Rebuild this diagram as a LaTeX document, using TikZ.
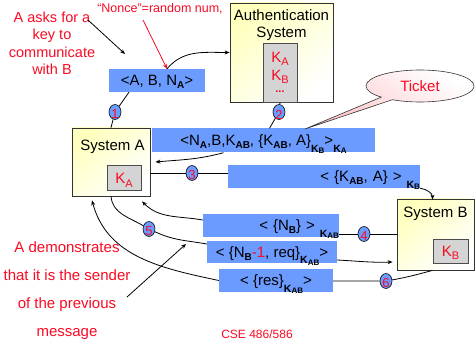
\documentclass[tikz,border=0pt]{standalone}
\usepackage{fontspec}
\setmainfont{Liberation Sans}
\usepackage{xcolor}
\usepackage{tikz}
\usetikzlibrary{arrows.meta, shapes.geometric, shapes.callouts}
\definecolor{msgblue}{RGB}{108,155,255}
\definecolor{notered}{RGB}{250,10,35}
\definecolor{boxyellow}{RGB}{255,255,190}
\definecolor{keygray}{RGB}{212,212,212}
\definecolor{ticketpink}{RGB}{255,195,200}
\newcommand{\bsub}[1]{\raisebox{-0.35ex}{\fontsize{10}{10}\selectfont\bfseries #1}}
\newcommand{\ksub}[1]{\raisebox{-0.8ex}{\fontsize{10.5}{10}\selectfont\bfseries K\raisebox{-0.3ex}{\fontsize{8}{8}\selectfont #1}}}
\newcommand{\rsub}[1]{\raisebox{-0.4ex}{\fontsize{11}{11}\selectfont #1}}

\begin{document}
\begin{tikzpicture}[x=1pt, y=1pt,
    msg/.style={fill=msgblue, inner sep=0pt, text depth=0pt, font=\fontsize{15}{18}\selectfont},
    sysbox/.style={draw=black!80, line width=0.8pt, top color=boxyellow, bottom color=white, shading angle=40},
    keybox/.style={draw=black!70, line width=0.8pt, fill=keygray},
    systext/.style={align=center, font=\fontsize{15}{17}\selectfont},
    keytext/.style={text=notered, font=\fontsize{15}{15}\selectfont},
    num/.style={ellipse, draw=black, line width=0.6pt, fill=msgblue, minimum width=12pt, minimum height=15pt, inner sep=0pt,
      label={[text=notered, font=\fontsize{13}{13}\selectfont, yshift=-2.5pt]center:#1}},
    note/.style={text=notered, align=center},
    arr/.style={-{Stealth[length=5pt,width=4pt]}, line width=0.8pt},
    wire/.style={line width=0.8pt}]
    \useasboundingbox (0,0) rectangle (475,343);
    % Paths, nodes and wires:
    \node[sysbox, minimum width=103pt, minimum height=99pt](S1) at (281.5,290.5){} node[systext, anchor=north](S1t) at ([yshift=-4pt]S1.north){Authentication\\System};
    \node[keybox, minimum width=34pt, minimum height=59pt](K1) at (280,270.5){};
    \node[keytext, anchor=base](K1a) at ([yshift=10pt]K1.center){K\rsub{A}};
    \node[keytext, anchor=base](K1b) at ([yshift=-8pt]K1.center){K\rsub{B}};
    \node[keytext, anchor=base, font=\fontsize{11}{11}\selectfont\bfseries](K1c) at ([yshift=-20pt]K1.center){...};
    \node[sysbox, minimum width=78pt, minimum height=68pt](S2) at (111,181){} node[systext, anchor=base](S2t) at ([xshift=1.5pt,yshift=-23pt]S2.north){System A};
    \node[keybox, minimum width=34pt, minimum height=25pt](K2) at (124,165.5){} node[keytext, anchor=base](K2t) at ([yshift=-6.5pt]K2.center){K\rsub{A}};
    \node[sysbox, minimum width=77pt, minimum height=71pt](S3) at (435.5,108.5){} node[systext, anchor=base](S3t) at ([yshift=-19pt]S3.north){System B};
    \node[keybox, minimum width=35pt, minimum height=24pt](K3) at (450.5,92){} node[keytext, anchor=base](K3t) at ([yshift=-5.7pt]K3.center){K\rsub{B}};
    % messages
    \node[msg, minimum width=96pt, minimum height=23pt](M1) at (157,262.5){<A, B, N\bsub{A}>};
    \node[msg, minimum width=223pt, minimum height=24pt](M2) at (263.5,202.5){<N\bsub{A},B,K\bsub{AB}, \{K\bsub{AB}, A\}\ksub{B}>\ksub{A}};
    \node[msg, text width=192pt, align=right, minimum height=23pt](M3) at (324,166.5){< \{K\bsub{AB}, A\} > \ksub{B}};
    \node[msg, text width=136pt, align=right, minimum height=23pt](M4) at (271,117.5){< \{N\bsub{B}\} > \ksub{AB}};
    \node[msg, minimum width=130pt, minimum height=22pt](M5) at (272,91){< \{N\bsub{B}\textcolor{notered}{-1}, req\}\ksub{AB}>};
    \node[msg, minimum width=114pt, minimum height=23pt](M6) at (276,62.5){< \{res\}\ksub{AB}>};
    % numbered steps
    \node[num=1](C1) at (115,231){};
    \node[num=2](C2) at (279,231){};
    \node[num=3](C3) at (192,170){};
    \node[num=4](C4) at (364,109){};
    \node[num=5](C5) at (149,114){};
    \node[num=6](C6) at (386,62){};
    \node[ellipse callout, callout absolute pointer={(305,214)}, draw=black!80, line width=0.6pt, top color=white, bottom color=ticketpink, shading angle=-30,
      minimum width=108pt, minimum height=32pt, text=notered, font=\fontsize{15}{15}\selectfont](T1) at (420,257){Ticket};
    % notes
    \node[note, font=\fontsize{14.5}{17.5}\selectfont](R1) at (52,299.5){A asks for a\\key to\\communicate\\with B};
    \node[note, font=\fontsize{12.5}{12.5}\selectfont](R2) at (160,334.5){“Nonce”=random num,};
    \node[note, font=\fontsize{15}{28}\selectfont](R3) at (67,52){A demonstrates\\that it is the sender\\of the previous\\message};
    \node[note, font=\fontsize{12}{12}\selectfont](R4) at (257,8.5){CSE 486/586};
    \coordinate (a1) at (88,323);
    \coordinate (a2) at (125,289);
    \coordinate (n1) at (143,323);
    \coordinate (d1) at (127,46);
    \coordinate (d2) at (186,99);
    \draw[arr] (a1) -- (a2);
    \draw[arr, notered] (n1) -- ([xshift=10pt]M1.north);
    \draw[arr] (d1) -- (d2);
    % step 1 and 2
    \draw[arr] ([xshift=10pt]M1.north) to[out=50, in=180] (S1.west);
    \draw[wire] ([xshift=-28pt]M1.south) -- (C1) -- (S2.north);
    \draw[wire] (K1.south) -- (C2) -- ([xshift=6pt]M2.north);
    \draw[arr] ([xshift=-40pt]M2.south) to[out=195, in=5] ([xshift=5pt]S2.east);
    % step 3 and 4
    \draw[wire] (S2.east |- C3) -- (C3) -- (M3.west |- C3);
    \draw[arr] (M3.south east) to[out=-10, in=90] ([xshift=-3pt,yshift=-1pt]S3.north);
    \draw[wire] (M4.east |- C4) -- (C4) -- (S3.west |- C4);
    \draw[arr] ([yshift=5.5pt]M4.west) to[out=170, in=-45] ([xshift=31pt,yshift=-5pt]S2.south);
    % step 5 and 6
    \draw[wire] (S2.south) to[out=-85, in=150] (C5) to[out=-25, in=170] ([yshift=8pt]M5.west);
    \draw[arr] ([yshift=-8pt]M5.east) to[out=-3, in=182] ([xshift=-4pt,yshift=-27.5pt]S3.west);
    \draw[wire] ([xshift=-3pt]S3.south) to[out=195, in=10] (C6) -- (M6.east |- C6);
    \draw[arr] (M6.west) to[out=168, in=-75] ([xshift=-19pt,yshift=-4pt]S2.south);
\end{tikzpicture}
\end{document}
